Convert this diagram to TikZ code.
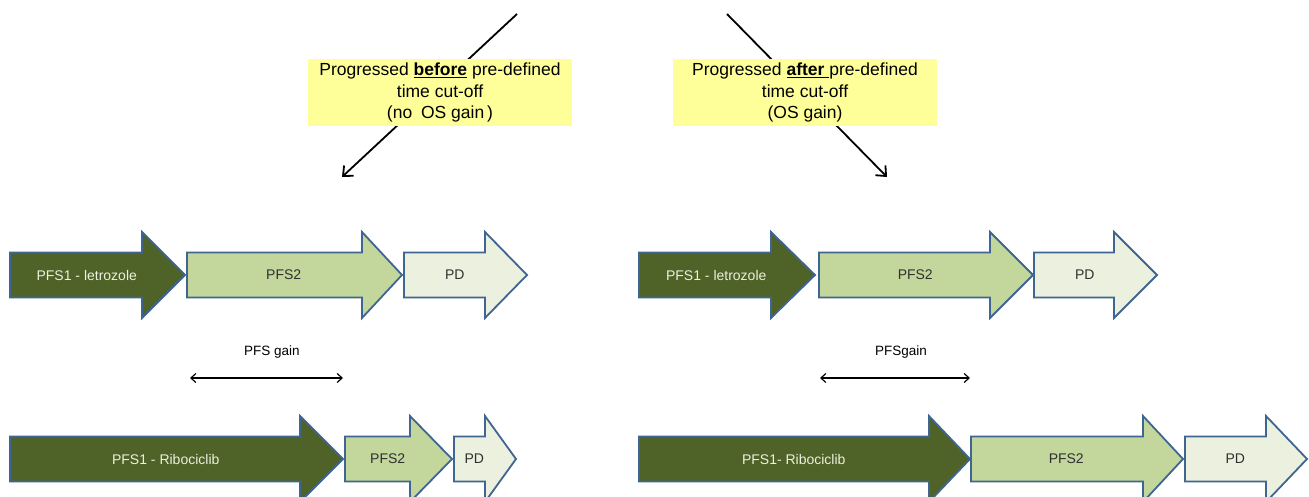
\documentclass[tikz,border=0pt]{standalone}
\usepackage{fontspec}
\setmainfont{Liberation Sans}
\usetikzlibrary{arrows.meta}
\definecolor{gdark}{HTML}{4F6228}
\definecolor{gmid}{HTML}{C3D69B}
\definecolor{glight}{HTML}{EBF1DE}
\definecolor{gborder}{HTML}{3F6592}
\definecolor{ybox}{HTML}{FFFF99}
\definecolor{txtgray}{HTML}{303030}
\tikzset{
  shaft/.style={draw=gborder, line width=1.8pt, line join=miter},
  labeltext/.style={font=\fontsize{14}{16}\selectfont, inner sep=0pt},
  notebox/.style={fill=ybox, minimum width=264pt, minimum height=67pt, inner sep=0pt, align=center, font=\fontsize{17.5}{21.5}\selectfont},
  diag/.style={line width=1.8pt, -{Straight Barb[length=8pt,width=14pt,line width=1.8pt]}},
  gain/.style={line width=1.2pt, {Straight Barb[length=5pt,width=9pt]}-{Straight Barb[length=5pt,width=9pt]}},
  gaintext/.style={font=\fontsize{13.5}{15}\selectfont, inner sep=0pt}
}
% #1 name, #2 left x, #3 tip x, #4 centre y, #5 head length, #6 fill, #7 text colour, #8 text
\newcommand{\garrow}[8]{%
  \draw[shaft, fill=#6] ({#2},{#4-22.5}) -- ({#3-#5},{#4-22.5}) -- ({#3-#5},{#4-43}) -- ({#3},{#4}) -- ({#3-#5},{#4+43}) -- ({#3-#5},{#4+22.5}) -- ({#2},{#4+22.5}) -- cycle;
  \node[labeltext, text=#7] (#1) at ({(#2+#3-21.5)/2},{#4}) {#8};
}
\begin{document}
\begin{tikzpicture}[x=1pt,y=-1pt]
\useasboundingbox (0,0) rectangle (1309,497);
\clip (0,0) rectangle (1309,497);
\fill[white] (0,0) rectangle (1309,497);

% diagonal connectors (behind the yellow notes)
\coordinate (ltop) at (517,14);
\coordinate (lend) at (342,177);
\coordinate (rtop) at (727,14);
\coordinate (rend) at (887,177);
\draw[diag] (ltop) -- (lend);
\draw[diag] (rtop) -- (rend);

% notes
\node[notebox] (noteL) at (440,92.5) {Progressed \underline{\textbf{before}} pre-defined\\time cut-off\\(no\enspace OS gain\,)};
\node[notebox] (noteR) at (805,92.5) {Progressed \underline{\textbf{after}\ }pre-defined\\time cut-off\\(OS gain)};

% left panel
\garrow{Lp1}{10}{185}{275}{43}{gdark}{glight}{PFS1 - letrozole}
\garrow{Lp2}{187}{402}{275}{40}{gmid}{txtgray}{PFS2}
\garrow{Lpd}{404}{527}{275}{42}{glight}{txtgray}{PD}
\garrow{Lr1}{10}{343}{459}{43}{gdark}{glight}{PFS1 - Ribociclib}
\garrow{Lr2}{345}{452}{459}{42}{gmid}{txtgray}{PFS2}
\garrow{Lrd}{454}{516}{459}{31}{glight}{txtgray}{PD}
\node[gaintext] (gainL) at (272,352) {PFS gain};
\coordinate (gLa) at (190,378);
\coordinate (gLb) at (343,378);
\draw[gain] (gLa) -- (gLb);

% right panel
\garrow{Rp1}{639}{815}{275}{44}{gdark}{glight}{PFS1 - letrozole}
\garrow{Rp2}{819}{1033}{275}{43}{gmid}{txtgray}{PFS2}
\garrow{Rpd}{1034}{1157}{275}{43}{glight}{txtgray}{PD}
\garrow{Rr1}{639}{970}{459}{41}{gdark}{glight}{PFS1- Ribociclib}
\garrow{Rr2}{971}{1183}{459}{40}{gmid}{txtgray}{PFS2}
\garrow{Rrd}{1185}{1307}{459}{41}{glight}{txtgray}{PD}
\node[gaintext] (gainR) at (901,352) {PFSgain};
\coordinate (gRa) at (820,378);
\coordinate (gRb) at (970,378);
\draw[gain] (gRa) -- (gRb);
\end{tikzpicture}
\end{document}
